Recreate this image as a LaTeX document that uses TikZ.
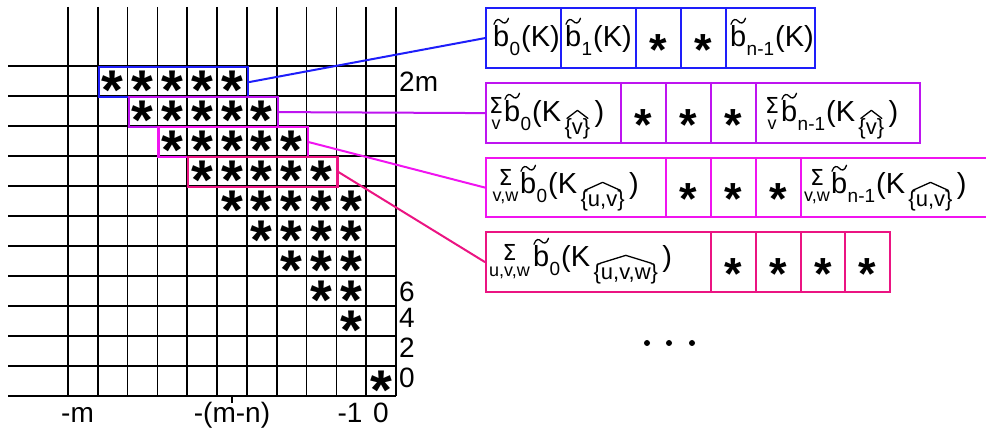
\documentclass[tikz,border=0pt]{standalone}
\usepackage{fontspec}
\setmainfont{Liberation Sans}
\newfontfamily\sigfont{DejaVu Sans}
\usetikzlibrary{calc}
\definecolor{cblue}{RGB}{30,30,250}
\definecolor{cpurple}{RGB}{190,20,240}
\definecolor{cmag}{RGB}{240,20,240}
\definecolor{cpink}{RGB}{235,20,130}
\tikzset{
  gridline/.style={line width=1.6pt,black},
  hl/.style={draw=#1,line width=2.2pt,inner sep=0,minimum height=30,minimum width=149.09,anchor=north west},
  conn/.style={line width=2pt},
  cellbox/.style={draw=#1,line width=2.2pt,inner sep=0,anchor=north west},
  mtxt/.style={font=\fontsize{29}{30}\selectfont,inner sep=0},
  stxt/.style={font=\fontsize{19}{20}\selectfont,inner sep=0},
  ktxt/.style={font=\fontsize{22}{22}\selectfont,inner sep=0},
  utxt/.style={font=\fontsize{18}{18}\selectfont,inner sep=0},
  sigtxt/.style={font=\sigfont\fontsize{22}{22}\selectfont,inner sep=0},
  lbl/.style={font=\fontsize{28}{28}\selectfont,inner sep=0},
  gstar/.style={font=\fontsize{56}{56}\selectfont\bfseries,inner sep=0,anchor=center},
  rstar/.style={font=\fontsize{45}{45}\selectfont\bfseries,inner sep=0,anchor=center},
  acc/.style={line width=1.3pt,line cap=round,line join=round},
  dotnode/.style={circle,fill=black,inner sep=0,minimum size=6}
}
\newcommand\starglyph{\raisebox{-0.5525em}[0.1655em][0.1655em]{*}}
\newcommand\tb[4]{%
  \node[mtxt,anchor=base west] (#1b) at (#2,#3) {b};
  \coordinate (#1p) at (#1b.north west);
  \draw[acc] ($(#1p)+(1,-1.5)$) .. controls ($(#1p)+(3,-7.5)$) and ($(#1p)+(6,-7)$) .. ($(#1p)+(8.3,-4.5)$) .. controls ($(#1p)+(10.5,-2)$) and ($(#1p)+(13.5,-1.5)$) .. ($(#1p)+(15.5,-7.5)$);
  \node[stxt,anchor=base west] (#1n) at ($(#1b.base east)+(0,8.5)$) {#4};
}
\newcommand\plainK[1]{\node[mtxt,anchor=base west] (#1k) at ($(#1n.base east)+(0.5,-8.5)$) {(K)};}
\newcommand\hatK[2]{%
  \node[mtxt,anchor=base west] (#1k) at ($(#1n.base east)+(0.5,-8.5)$) {(K};
  \node[ktxt,anchor=base west] (#1h) at ($(#1k.base east)+(3,13)$) {#2};
  \draw[acc] ($(#1h.north west)!0.1!(#1h.north east)+(0,-0.5)$) -- ($(#1h.north)+(0,-8.5)$) -- ($(#1h.north west)!0.9!(#1h.north east)+(0,-0.5)$);
  \node[mtxt,anchor=base west] (#1r) at ($(#1h.base east)+(4,-13)$) {)};
}
\newcommand\sumblk[5]{%
  \node[utxt,anchor=base] (#1u) at (#2,#3+8+#5) {#4};
  \node[sigtxt,anchor=base] (#1s) at (#2,#3-8+#5) {Σ};
}
\newcommand\cell[6]{\node[cellbox=#2,minimum width={#4-#3},minimum height={#6-#5}] (#1) at (#3,#5) {};}
\begin{document}
\begin{tikzpicture}[x=1pt,y=-1pt]
\useasboundingbox (0,0) rectangle (986,435);
% grid
\foreach \i in {0,...,11} \draw[gridline] (68+29.818*\i,7) -- (68+29.818*\i,396);
\foreach \j in {0,...,11} \draw[gridline] (8,66+30*\j) -- (396,66+30*\j);
\draw[gridline] (232,396) -- (232,403);
% stars in grid
\foreach \j/\a/\b in {0/1/5,1/2/6,2/3/7,3/4/8,4/5/9,5/6/9,6/7/9,7/8/9,8/9/9,10/10/10}
  \foreach \i in {\a,...,\b}
    \node[gstar] (s\j-\i) at (82.909+29.818*\i,79+30*\j) {\starglyph};
% highlight boxes
\node[hl=cblue] (h1) at (97.818,66) {};
\node[hl=cpurple] (h2) at (127.636,96) {};
\node[hl=cmag] (h3) at (157.455,126) {};
\node[hl=cpink] (h4) at (187.273,156) {};
% axis labels
\node[lbl,anchor=base west] (l2m) at (399,92) {2m};
\node[lbl,anchor=base west] (l6) at (399,302) {6};
\node[lbl,anchor=base west] (l4) at (399,328) {4};
\node[lbl,anchor=base west] (l2) at (399,358) {2};
\node[lbl,anchor=base west] (l0) at (399,388) {0};
\node[lbl,anchor=base] (xm) at (77.5,423) {-m};
\node[lbl,anchor=base] (xmn) at (232,423) {-(m-n)};
\node[lbl,anchor=base] (x1) at (350,423) {-1};
\node[lbl,anchor=base] (x0) at (381,423) {0};
% right cells
\cell{r1a}{cblue}{485}{560}{7}{67}
\cell{r1b}{cblue}{560}{635}{7}{67}
\cell{r1c}{cblue}{635}{680}{7}{67}
\cell{r1d}{cblue}{680}{725}{7}{67}
\cell{r1e}{cblue}{725}{814}{7}{67}
\cell{r2a}{cpurple}{485}{620}{82}{142}
\cell{r2b}{cpurple}{620}{665}{82}{142}
\cell{r2c}{cpurple}{665}{710}{82}{142}
\cell{r2d}{cpurple}{710}{755}{82}{142}
\cell{r2e}{cpurple}{755}{919}{82}{142}
\cell{r3a}{cmag}{485}{665}{157}{216}
\cell{r3b}{cmag}{665}{710}{157}{216}
\cell{r3c}{cmag}{710}{755}{157}{216}
\cell{r3d}{cmag}{755}{800}{157}{216}
\cell{r3e}{cmag}{800}{990}{157}{216}
\cell{r4a}{cpink}{485}{710}{231}{291}
\cell{r4b}{cpink}{710}{755}{231}{291}
\cell{r4c}{cpink}{755}{800}{231}{291}
\cell{r4d}{cpink}{800}{844}{231}{291}
\cell{r4e}{cpink}{844}{889}{231}{291}
% connectors
\draw[conn,cblue] (h1.east) -- (r1a.west);
\draw[conn,cpurple] (h2.east) -- (r2a.west);
\draw[conn,cmag] (h3.east) -- (r3a.west);
\draw[conn,cpink] (h4.east) -- (r4a.west);
% stars in cells
\foreach \c in {r1c,r1d,r2b,r2c,r2d,r3b,r3c,r3d,r4b,r4c,r4d,r4e}
  \node[rstar] (st-\c) at ($(\c.center)+(0,2.5)$) {\starglyph};
% formulas
\tb{fa}{493}{47}{0}\plainK{fa}
\tb{fb}{565}{47}{1}\plainK{fb}
\tb{fc}{730}{47}{n-1}\plainK{fc}
\sumblk{ga}{496}{122}{v}{0}\tb{ga}{504}{122}{0}\hatK{ga}{\{v\}}
\sumblk{gb}{772}{122}{v}{0}\tb{gb}{781}{122}{n-1}\hatK{gb}{\{v\}}
\sumblk{ha}{505.5}{194}{v,w}{0}\tb{ha}{520}{194}{0}\hatK{ha}{\{u,v\}}
\sumblk{hb}{817}{194}{v,w}{0}\tb{hb}{831}{194}{n-1}\hatK{hb}{\{u,v\}}
\sumblk{ia}{509.5}{267}{u,v,w}{2}\tb{ia}{533}{267}{0}\hatK{ia}{\{u,v,w\}}
% dots
\node[dotnode] (d1) at (647,343) {};
\node[dotnode] (d2) at (669,343) {};
\node[dotnode] (d3) at (692,343) {};
\end{tikzpicture}
\end{document}
